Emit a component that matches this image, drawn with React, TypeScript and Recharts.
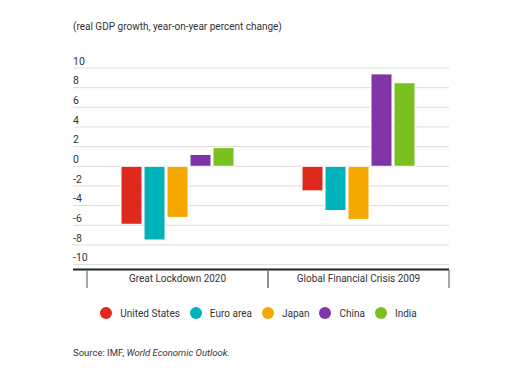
import React from "react";
import { BarChart, Bar, XAxis, YAxis, CartesianGrid, Legend } from "recharts";

const categories = ["Great Lockdown 2020", "Global Financial Crisis 2009"];
const unitedStates = [-5.9, -2.5];
const euroArea = [-7.5, -4.5];
const japan = [-5.2, -5.4];
const china = [1.2, 9.4];
const india = [1.9, 8.5];
const yTicks = [-10, -8, -6, -4, -2, 0, 2, 4, 6, 8, 10];

const series = [
  { key: "us", name: "United States", color: "#DE2A1D" },
  { key: "euro", name: "Euro area", color: "#00B3BB" },
  { key: "japan", name: "Japan", color: "#F5A900" },
  { key: "china", name: "China", color: "#7F35A8" },
  { key: "india", name: "India", color: "#7AC021" },
];

const data = categories.map((c, i) => ({
  name: c,
  us: unitedStates[i],
  euro: euroArea[i],
  japan: japan[i],
  china: china[i],
  india: india[i],
}));

const FONT = "Roboto, 'Noto Sans', sans-serif";
const LEFT = 73;
const RIGHT = 449;
const BAND_PAD = 14;

const YTick = (props: any) => {
  const { y, payload } = props;
  return (
    <text x={LEFT} y={y - 7} dy="0.35em" fill="#333" fontSize={10.5} fontFamily={FONT} textAnchor="start">
      {payload.value}
    </text>
  );
};

// category label with divider lines at both band edges
const XTick = (props: any) => {
  const { x, payload } = props;
  const top = 270;
  const half = (RIGHT - LEFT - BAND_PAD) / 4;
  return (
    <g>
      <line x1={x - half} x2={x - half} y1={top} y2={top + 18} stroke="#888" strokeWidth={1.5} />
      <line x1={x + half} x2={x + half} y1={top} y2={top + 18} stroke="#888" strokeWidth={1.5} />
      <text x={x} y={top + 8.5} dy="0.35em" fill="#333" fontSize={10} fontFamily={FONT} textAnchor="middle">
        {payload.value}
      </text>
    </g>
  );
};

const LegendContent = () => (
  <div style={{ display: "flex", justifyContent: "center", alignItems: "center", fontFamily: FONT, fontSize: 10, color: "#333" }}>
    {series.map((s, i) => (
      <div key={s.key} style={{ display: "flex", alignItems: "center", marginLeft: i === 0 ? 0 : 10 }}>
        <span style={{ width: 12, height: 12, borderRadius: 6, background: s.color, display: "inline-block", marginRight: 8 }} />
        <span>{s.name}</span>
      </div>
    ))}
  </div>
);

export default function App() {
  return (
    <div style={{ position: "absolute", left: 0, top: 0, width: 517, height: 383, background: "#fff", fontFamily: FONT }}>
      <div style={{ position: "absolute", left: 73, top: 21, fontSize: 10, color: "#333" }}>
        (real GDP growth, year-on-year percent change)
      </div>
      <BarChart
        width={517}
        height={383}
        data={data}
        margin={{ top: 68, right: 517 - RIGHT, bottom: 83.5, left: LEFT }}
        barSize={21}
        barGap={2}
      >
        <CartesianGrid vertical={false} stroke="#dddddd" strokeWidth={1} />
        <XAxis
          dataKey="name"
          height={30}
          padding={{ left: BAND_PAD, right: 0 }}
          axisLine={{ stroke: "#222", strokeWidth: 2 }}
          tickLine={false}
          tick={<XTick />}
          interval={0}
        />
        <YAxis
          domain={[-10.5, 10]}
          ticks={yTicks}
          mirror
          axisLine={false}
          tickLine={false}
          tick={<YTick />}
          interval={0}
        />
        {series.map((s) => (
          <Bar key={s.key} dataKey={s.key} name={s.name} fill={s.color} stroke="#fff" strokeWidth={1} isAnimationActive={false} />
        ))}
        <Legend
          layout="horizontal"
          verticalAlign="middle"
          align="center"
          content={<LegendContent />}
          wrapperStyle={{ top: 307, left: 0, width: 517 }}
        />
      </BarChart>
      <div style={{ position: "absolute", left: 73, top: 347, fontSize: 9.5, color: "#333" }}>
        Source: IMF, <i>World Economic Outlook.</i>
      </div>
    </div>
  );
}
